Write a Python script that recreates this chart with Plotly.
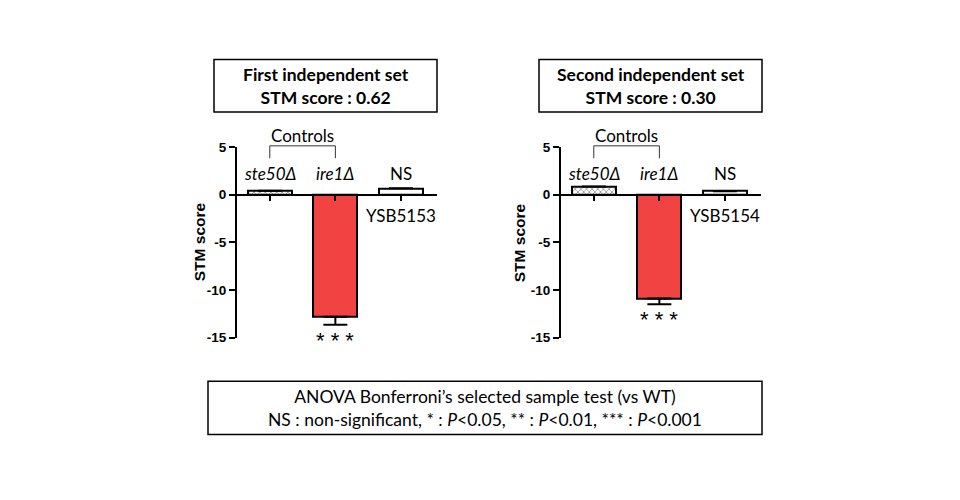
import plotly.graph_objects as go

# values
strains_first = ["ste50Δ", "ire1Δ", "YSB5153"]
scores_first = [0.4, -12.8, 0.65]
errors_first = [0.0, 0.85, 0.0]

strains_second = ["ste50Δ", "ire1Δ", "YSB5154"]
scores_second = [0.85, -10.9, 0.35]
errors_second = [0.0, 0.6, 0.0]

set_titles = ["First independent set", "Second independent set"]
set_scores = [0.62, 0.30]
y_ticks = [5, 0, -5, -10, -15]
y_tick_labels = ["5", "0", "-5", "-10", "-15"]

RED = "#F24343"
BODY_FONT = "Lato"
AXIS_FONT = "Liberation Sans"

# the page body keeps its 8px margin, so the figure is 16px smaller than the window
W, H = 944, 484
OFF = 8


def px_x(x):
    return (x - OFF) / W


def px_y(y):
    return 1 - (y - OFF) / H


Y_RANGE = [-15, 5]
Y_DOMAIN = [px_y(341), px_y(144)]
X_RANGE = [-0.5, 2.55]
X_DOMAINS = [[px_x(237), px_x(437)], [px_x(561), px_x(761)]]
TITLE_X = [px_x(199), px_x(519)]


def data_to_paper_y(v):
    frac = (v - Y_RANGE[0]) / (Y_RANGE[1] - Y_RANGE[0])
    return Y_DOMAIN[0] + frac * (Y_DOMAIN[1] - Y_DOMAIN[0])


def data_to_paper_x(v, panel):
    d0, d1 = X_DOMAINS[panel]
    frac = (v - X_RANGE[0]) / (X_RANGE[1] - X_RANGE[0])
    return d0 + frac * (d1 - d0)


zero_pos = data_to_paper_y(0)

fig = go.Figure()
panels = [
    (strains_first, scores_first, errors_first),
    (strains_second, scores_second, errors_second),
]

for i, (strains, scores, errors) in enumerate(panels):
    n = i + 1
    xa = "x" if n == 1 else f"x{n}"
    ya = "y" if n == 1 else f"y{n}"
    xs = list(range(len(strains)))
    fig.add_trace(
        go.Bar(
            x=xs,
            y=scores,
            xaxis=xa,
            yaxis=ya,
            width=0.67,
            marker=dict(
                color=["white", RED, "white"],
                line=dict(color="black", width=2),
                pattern=dict(
                    shape=["x", "", ""],
                    size=4,
                    solidity=0.4,
                    fgcolor="black",
                    bgcolor="white",
                    fillmode="overlay",
                ),
            ),
            error_y=dict(
                type="data",
                symmetric=False,
                array=[0] * len(errors),
                arrayminus=errors,
                color="black",
                thickness=2,
                width=12,
            ),
            showlegend=False,
            hoverinfo="skip",
        )
    )

    xkey = "xaxis" if n == 1 else f"xaxis{n}"
    ykey = "yaxis" if n == 1 else f"yaxis{n}"
    fig.update_layout(
        {
            xkey: dict(
                domain=X_DOMAINS[i],
                range=X_RANGE,
                anchor="free",
                position=zero_pos,
                showline=True,
                linecolor="black",
                linewidth=2,
                ticks="outside",
                tickvals=xs,
                ticklen=5,
                tickwidth=1.5,
                tickcolor="black",
                showticklabels=False,
                showgrid=False,
                zeroline=False,
                fixedrange=True,
            ),
            ykey: dict(
                domain=Y_DOMAIN,
                range=Y_RANGE,
                anchor=xa,
                showline=True,
                linecolor="black",
                linewidth=2,
                ticks="outside",
                tickvals=y_ticks,
                ticktext=y_tick_labels,
                ticklen=6,
                tickwidth=2,
                tickcolor="black",
                tickfont=dict(family=AXIS_FONT, size=13.5, color="black", weight="bold"),
                showgrid=False,
                zeroline=False,
                fixedrange=True,
            ),
        }
    )

    fig.add_annotation(
        x=TITLE_X[i], y=data_to_paper_y(-5), xref="paper", yref="paper",
        text="<b>STM score</b>", textangle=-90, showarrow=False,
        xanchor="center", yanchor="middle",
        font=dict(family=AXIS_FONT, size=15.5, color="black"),
    )

    # strain labels: controls above the axis, tested strain below
    label_font = dict(family=BODY_FONT, size=17, color="black")
    for j in (0, 1):
        fig.add_annotation(
            x=xs[j], y=2.2, xref=xa, yref=ya, text=f"<i>{strains[j]}</i>",
            showarrow=False, font=label_font,
        )
    fig.add_annotation(
        x=xs[2], y=2.2, xref=xa, yref=ya, text="NS",
        showarrow=False, font=label_font,
    )
    fig.add_annotation(
        x=xs[2], y=-2.2, xref=xa, yref=ya, text=strains[2],
        showarrow=False, font=label_font,
    )
    fig.add_annotation(
        x=xs[1], y=scores[1] - errors[1], xref=xa, yref=ya, text="* * *",
        showarrow=False, yanchor="top", yshift=-1,
        font=dict(family=AXIS_FONT, size=22, color="black"),
    )

    # "Controls" bracket, in paper units so it is not clipped at the top of the axis
    bx0 = data_to_paper_x(xs[0], i)
    bx1 = data_to_paper_x(xs[1], i)
    by0 = data_to_paper_y(3.8)
    by1 = data_to_paper_y(5.1)
    fig.add_shape(
        type="path",
        path=f"M {bx0},{by0} L {bx0},{by1} L {bx1},{by1} L {bx1},{by0}",
        xref="paper", yref="paper",
        line=dict(color="#333333", width=1),
    )
    fig.add_annotation(
        x=(bx0 + bx1) / 2, y=by1, xref="paper", yref="paper",
        xanchor="center", yanchor="bottom", yshift=-2,
        text="Controls", showarrow=False, font=label_font,
    )

# title boxes above each panel
title_boxes = [(214, 437), (539, 762)]
for (x0, x1), title, score in zip(title_boxes, set_titles, set_scores):
    fig.add_shape(
        type="rect", xref="paper", yref="paper",
        x0=px_x(x0), x1=px_x(x1), y0=px_y(108), y1=px_y(54),
        line=dict(color="black", width=1.5), fillcolor="white", layer="below",
    )
    fig.add_annotation(
        x=px_x((x0 + x1) / 2), y=px_y(81), xref="paper", yref="paper",
        xanchor="center", yanchor="middle",
        text=f"<b>{title}</b><br><b>STM score : {score:.2f}</b>",
        showarrow=False, align="center",
        font=dict(family=BODY_FONT, size=17.5, color="black"),
    )

# test legend box at the bottom
fig.add_shape(
    type="rect", xref="paper", yref="paper",
    x0=px_x(208), x1=px_x(762), y0=px_y(441), y1=px_y(386),
    line=dict(color="black", width=1.5), fillcolor="white", layer="below",
)
fig.add_annotation(
    x=px_x(485), y=px_y(414), xref="paper", yref="paper",
    xanchor="center", yanchor="middle",
    text="ANOVA Bonferroni’s selected sample test (vs WT)<br>"
    "NS : non-significant, * : <i>P</i>&lt;0.05, ** : <i>P</i>&lt;0.01, *** : <i>P</i>&lt;0.001",
    showarrow=False, align="center",
    font=dict(family=BODY_FONT, size=17.5, color="black"),
)

fig.update_layout(
    width=W,
    height=H,
    margin=dict(l=0, r=0, t=0, b=0),
    plot_bgcolor="white",
    paper_bgcolor="white",
    bargap=0,
)

fig.write_html("out.html")
